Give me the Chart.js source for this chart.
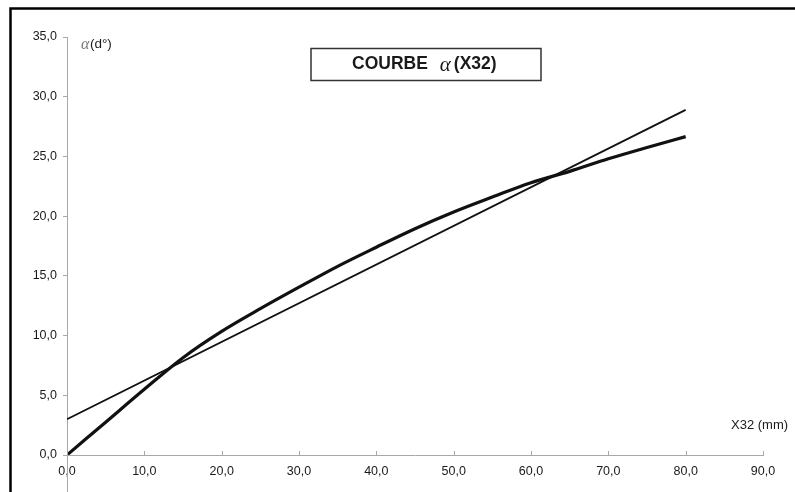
<!DOCTYPE html>
<html>
<head>
<meta charset="utf-8">
<title>Courbe α(X32)</title>
<script src="https://cdn.jsdelivr.net/npm/chart.js@4/dist/chart.umd.min.js"></script>
<style>
  html, body { margin: 0; padding: 0; background: #ffffff; }
  #wrap { width: 795px; height: 492px; }
</style>
</head>
<body>
<div id="wrap"><canvas id="chart" width="795" height="492"></canvas></div>
<script>
// X32 positions (mm) where the measured angle was sampled
const x32Values = [0, 5, 10, 15, 20, 25, 30, 35, 40, 45, 50, 55, 60, 65, 70, 75, 80];
// Measured angle α (degrees)
const alphaValues = [0, 2.75, 5.5, 8.15, 10.35, 12.25, 14.05, 15.8, 17.4, 18.95, 20.35, 21.6, 22.8, 23.75, 24.8, 25.75, 26.66];
// Linear approximation: end points
const linearX = [0, 80];
const linearValues = [3.0, 28.9];
// Axis ticks
const xTickValues = [0, 10, 20, 30, 40, 50, 60, 70, 80, 90];
const xTickLabels = ['0,0', '10,0', '20,0', '30,0', '40,0', '50,0', '60,0', '70,0', '80,0', '90,0'];
const yTickValues = [0, 5, 10, 15, 20, 25, 30, 35];
const yTickLabels = ['0,0', '5,0', '10,0', '15,0', '20,0', '25,0', '30,0', '35,0'];

const AXIS_GREY = '#a8a8a8';
const TEXT_DARK = '#1a1a1a';
const SANS = '"Liberation Sans", Arial, sans-serif';
const SERIF = '"Liberation Serif", "DejaVu Serif", serif';

const curvePoints = x32Values.map((x, i) => ({ x: x, y: alphaValues[i] }));
const linePoints = linearX.map((x, i) => ({ x: x, y: linearValues[i] }));

// Draws a run of differently styled text pieces starting at x
function drawRun(ctx, parts, x, y) {
  parts.forEach(p => {
    ctx.font = p.f;
    ctx.fillStyle = p.c || TEXT_DARK;
    ctx.fillText(p.t, x + (p.dx || 0), y + (p.dy || 0));
    x += ctx.measureText(p.t).width + (p.gap || 0);
  });
}

// White page, outer frame, axis decorations and the boxed title
const decorations = {
  id: 'decorations',
  beforeDraw(chart) {
    const ctx = chart.ctx;
    ctx.save();
    ctx.fillStyle = '#ffffff';
    ctx.fillRect(0, 0, chart.width, chart.height);
    ctx.restore();
  },
  afterDraw(chart) {
    const ctx = chart.ctx;
    const xs = chart.scales.x;
    const ys = chart.scales.y;
    const x0 = xs.getPixelForValue(0);
    const y0 = ys.getPixelForValue(0);
    ctx.save();

    // y axis continues below the x axis
    ctx.strokeStyle = AXIS_GREY;
    ctx.lineWidth = 1;
    ctx.beginPath();
    ctx.moveTo(Math.round(x0) + 0.5, y0);
    ctx.lineTo(Math.round(x0) + 0.5, chart.height);
    ctx.stroke();

    // x tick marks pointing upward
    ctx.beginPath();
    xTickValues.forEach(v => {
      const px = Math.round(xs.getPixelForValue(v)) + 0.5;
      ctx.moveTo(px, y0);
      ctx.lineTo(px, y0 - 4);
    });
    ctx.stroke();

    // axis titles
    ctx.textBaseline = 'middle';
    ctx.textAlign = 'left';
    drawRun(ctx, [
      { t: 'α', f: 'italic 16px ' + SERIF, c: '#777777', gap: 0.5, dy: 1 },
      { t: '(d°)', f: '13.5px ' + SANS }
    ], 81, 44);

    ctx.font = '13px ' + SANS;
    ctx.fillStyle = TEXT_DARK;
    ctx.fillText('X32 (mm)', 731, 425);

    // boxed title
    ctx.strokeStyle = '#333333';
    ctx.lineWidth = 1.5;
    ctx.strokeRect(311, 48.5, 230, 32);
    drawRun(ctx, [
      { t: 'COURBE', f: 'bold 17.5px ' + SANS, gap: 12 },
      { t: 'α', f: 'italic 21px ' + SERIF, gap: 3, dy: 1.5 },
      { t: '(X32)', f: 'bold 17.5px ' + SANS }
    ], 352, 64);

    // outer frame (left and top edges visible)
    ctx.strokeStyle = '#000000';
    ctx.lineWidth = 2.5;
    ctx.strokeRect(10.5, 8.5, 900, 600);
    ctx.restore();
  }
};

new Chart(document.getElementById('chart'), {
  type: 'scatter',
  data: {
    datasets: [
      {
        label: 'α(X32)',
        data: curvePoints,
        showLine: true,
        borderColor: '#111111',
        borderWidth: 3.2,
        pointRadius: 0,
        cubicInterpolationMode: 'monotone',
        fill: false
      },
      {
        label: 'droite',
        data: linePoints,
        showLine: true,
        borderColor: '#111111',
        borderWidth: 1.8,
        pointRadius: 0,
        fill: false
      }
    ]
  },
  options: {
    responsive: false,
    animation: false,
    devicePixelRatio: 1,
    layout: { padding: { top: 37, right: 32, left: 0, bottom: 0 } },
    plugins: {
      legend: { display: false },
      tooltip: { enabled: false },
      title: { display: false }
    },
    scales: {
      x: {
        type: 'linear',
        min: 0,
        max: 90,
        afterBuildTicks(scale) { scale.ticks = xTickValues.map(v => ({ value: v })); },
        afterFit(scale) { scale.height = 37; },
        grid: { display: true, drawOnChartArea: false, drawTicks: false },
        border: { display: true, color: AXIS_GREY, width: 1 },
        ticks: {
          padding: 9,
          color: TEXT_DARK,
          font: { family: SANS, size: 12.5 },
          maxRotation: 0,
          callback: (v) => xTickLabels[xTickValues.indexOf(v)]
        }
      },
      y: {
        type: 'linear',
        min: 0,
        max: 35,
        afterBuildTicks(scale) { scale.ticks = yTickValues.map(v => ({ value: v })); },
        afterFit(scale) { scale.width = 67; },
        grid: { display: true, drawOnChartArea: false, drawTicks: true, tickLength: 4, color: AXIS_GREY },
        border: { display: true, color: AXIS_GREY, width: 1 },
        ticks: {
          padding: 6,
          color: TEXT_DARK,
          font: { family: SANS, size: 12.5 },
          callback: (v) => yTickLabels[yTickValues.indexOf(v)]
        }
      }
    }
  },
  plugins: [decorations]
});
</script>
</body>
</html>
